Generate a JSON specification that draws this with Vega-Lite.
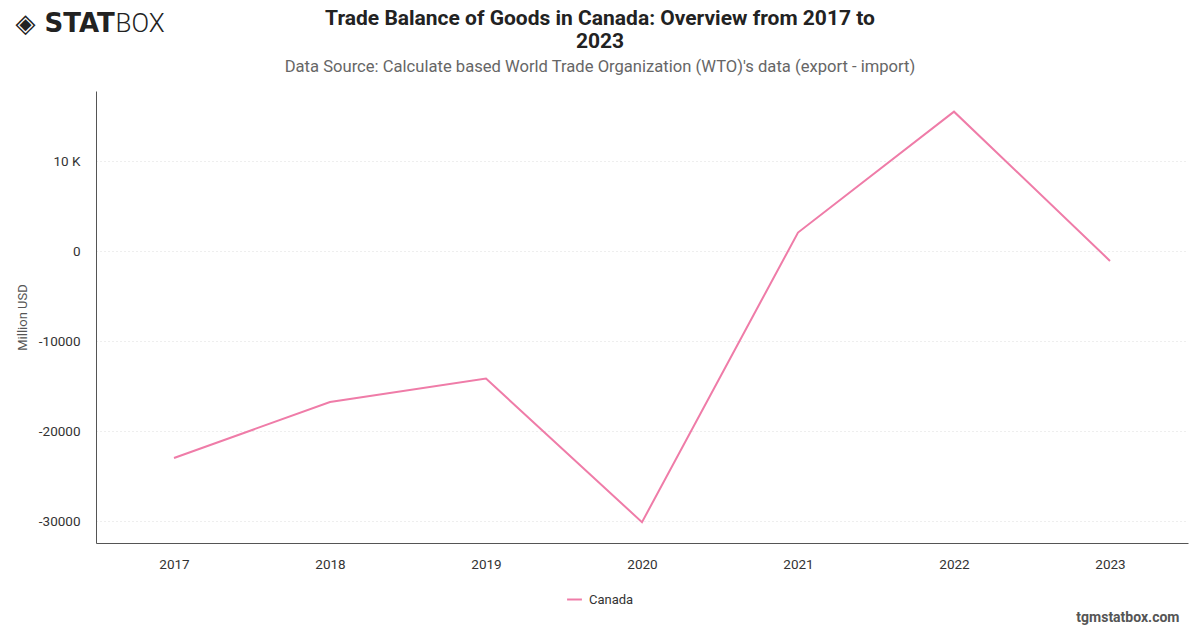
{
  "$schema": "https://vega.github.io/schema/vega-lite/v6.json",
  "autosize": {"type": "none"},
  "width": 1092,
  "height": 452,
  "padding": {"left": 96, "top": 91, "right": 12, "bottom": 85},
  "background": "#ffffff",
  "config": {
    "font": "Roboto",
    "view": {"stroke": null}
  },
  "title": {
    "text": ["Trade Balance of Goods in Canada: Overview from 2017 to", "2023"],
    "subtitle": "Data Source: Calculate based World Trade Organization (WTO)'s data (export - import)",
    "anchor": "middle",
    "frame": "group",
    "dx": -42,
    "dy": 76,
    "offset": 10,
    "font": "Roboto",
    "fontSize": 21,
    "fontWeight": "bold",
    "color": "#222222",
    "lineHeight": 23,
    "subtitleFont": "Roboto",
    "subtitleFontSize": 16.6,
    "subtitleColor": "#666666",
    "subtitlePadding": 7
  },
  "data": {
    "values": [
      {"year": "2017", "country": "Canada", "balance": -23000},
      {"year": "2018", "country": "Canada", "balance": -16780},
      {"year": "2019", "country": "Canada", "balance": -14180},
      {"year": "2020", "country": "Canada", "balance": -30130},
      {"year": "2021", "country": "Canada", "balance": 2050},
      {"year": "2022", "country": "Canada", "balance": 15480},
      {"year": "2023", "country": "Canada", "balance": -1100}
    ]
  },
  "layer": [
    {
      "mark": {"type": "line", "strokeWidth": 2, "interpolate": "linear"},
      "encoding": {
        "x": {
          "field": "year",
          "type": "ordinal",
          "scale": {"type": "point", "padding": 0.5},
          "axis": {
            "orient": "bottom",
            "labelAngle": 0,
            "labelFontSize": 13.5,
            "labelColor": "#333333",
            "labelPadding": 14,
            "ticks": false,
            "tickSize": 0,
            "domainColor": "#555555",
            "domainWidth": 1,
            "grid": false,
            "title": "tgmstatbox.com",
            "titleFont": "Roboto",
            "titleFontSize": 14,
            "titleFontWeight": "bold",
            "titleColor": "#555555",
            "titleAnchor": null,
            "titleAlign": "right",
            "titleBaseline": "alphabetic",
            "titleX": 1083,
            "titleY": 78
          }
        },
        "y": {
          "field": "balance",
          "type": "quantitative",
          "scale": {"domain": [-32444, 17778], "nice": false, "zero": false},
          "axis": {
            "orient": "left",
            "values": [-30000, -20000, -10000, 0, 10000],
            "labelExpr": "datum.value == 10000 ? '10 K' : datum.value",
            "labelFontSize": 13.5,
            "labelColor": "#333333",
            "labelPadding": 16,
            "ticks": false,
            "tickSize": 0,
            "domainColor": "#555555",
            "domainWidth": 1,
            "grid": true,
            "gridColor": "#dddddd",
            "gridDash": [1, 3],
            "gridWidth": 1,
            "title": "Million USD",
            "titleFont": "Roboto",
            "titleFontSize": 13,
            "titleFontWeight": "normal",
            "titleColor": "#555555",
            "titlePadding": 9
          }
        },
        "color": {
          "field": "country",
          "type": "nominal",
          "scale": {"range": ["#ef7ca8"]},
          "legend": {
            "orient": "none",
            "legendX": 470,
            "legendY": 500,
            "direction": "horizontal",
            "title": null,
            "symbolType": "stroke",
            "symbolStrokeWidth": 2,
            "symbolSize": 220,
            "labelFontSize": 13,
            "labelColor": "#333333",
            "labelOffset": 6
          }
        }
      }
    },
    {
      "mark": {"type": "line", "strokeOpacity": 0},
      "encoding": {
        "x": {
          "field": "year",
          "type": "ordinal",
          "axis": {
            "orient": "top",
            "labels": false,
            "ticks": false,
            "domain": false,
            "grid": false,
            "title": "◈ STAT",
            "titleFont": "DejaVu Sans",
            "titleFontSize": 26,
            "titleFontWeight": "bold",
            "titleColor": "#222222",
            "titleAnchor": null,
            "titleAlign": "left",
            "titleBaseline": "alphabetic",
            "titleX": -81,
            "titleY": -60
          }
        },
        "y": {
          "field": "balance",
          "type": "quantitative",
          "axis": {
            "orient": "right",
            "labels": false,
            "ticks": false,
            "domain": false,
            "grid": false,
            "title": "BOX",
            "titleAngle": 0,
            "titleFont": "Roboto",
            "titleFontSize": 26,
            "titleFontWeight": 300,
            "titleColor": "#222222",
            "titleAnchor": null,
            "titleAlign": "left",
            "titleBaseline": "alphabetic",
            "titleX": -1073,
            "titleY": -60
          }
        }
      }
    }
  ]
}
